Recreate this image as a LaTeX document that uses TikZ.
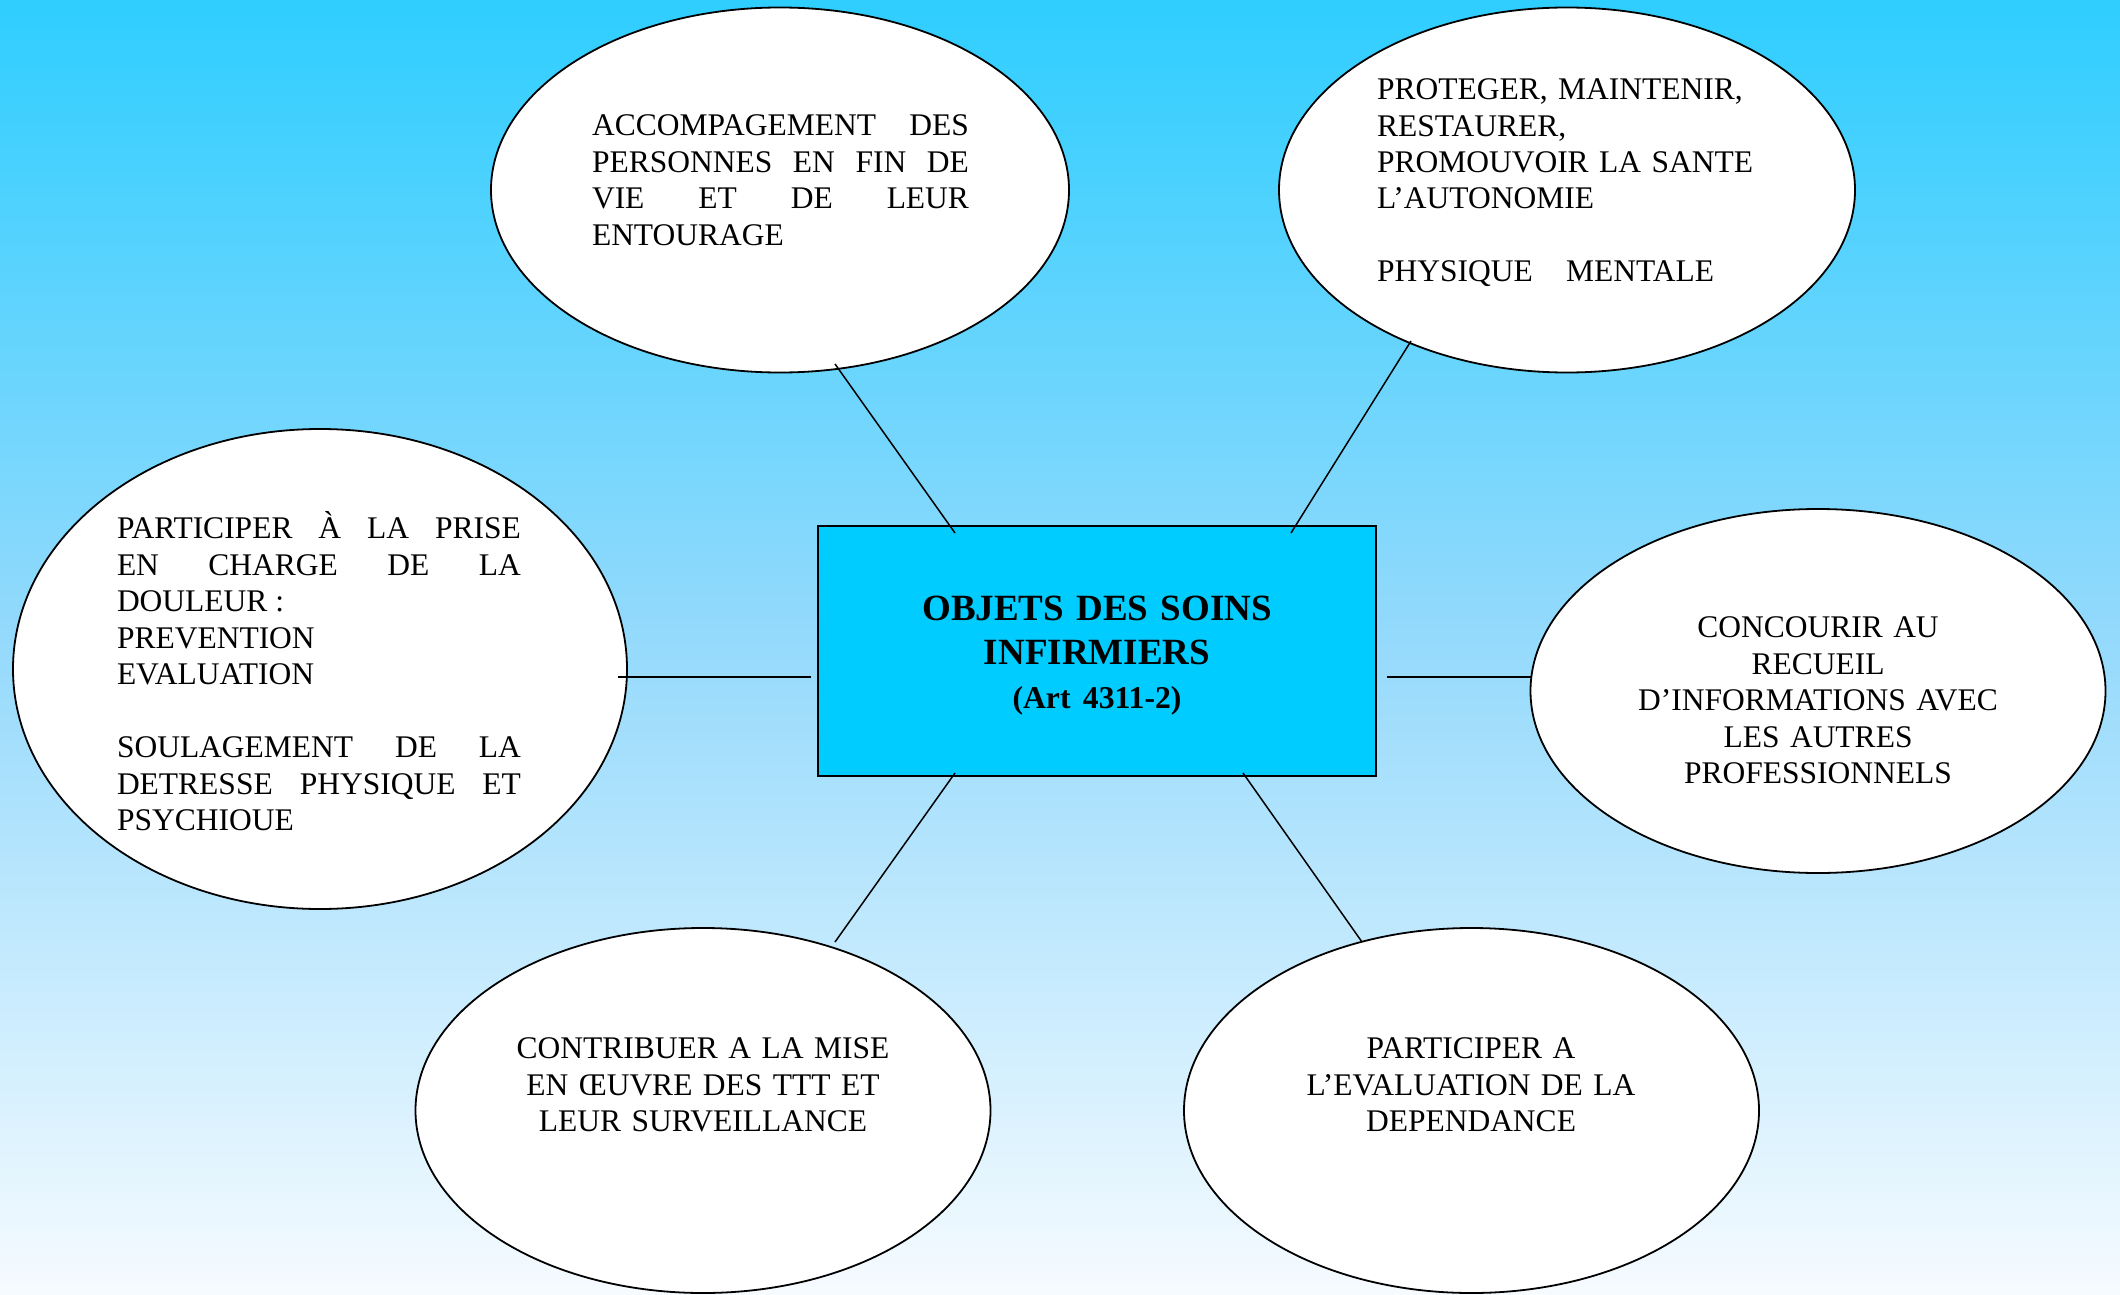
\documentclass[tikz,border=0pt]{standalone}
\usepackage{fontspec}
\setmainfont{Liberation Serif}
\usetikzlibrary{shapes.geometric}
\definecolor{bgtop}{RGB}{46,206,255}
\definecolor{bgmid}{RGB}{150,218,252}
\definecolor{bgbot}{RGB}{246,251,255}
\definecolor{boxfill}{RGB}{0,204,255}
\tikzset{
  bubble/.style={ellipse, draw=black, line width=1.8pt, fill=white, inner sep=0pt, outer sep=0pt},
  txt/.style={inner sep=0pt, outer sep=0pt, font=\fontsize{31.5}{36.5}\selectfont},
  jtxt/.style={txt, align=justify, anchor=base west},
  ctxt/.style={txt, text width=420pt, align=center, anchor=base},
  link/.style={line width=1.5pt, draw=black},
  hlink/.style={line width=2pt, draw=black}
}
\begin{document}
\begin{tikzpicture}[x=1pt,y=-1pt]
\useasboundingbox (0,0) rectangle (2120,1295);
\shade[top color=bgtop, bottom color=bgbot, middle color=bgmid] (0,0) rectangle (2120,1295);

% bubbles
\node[bubble, minimum width=578pt, minimum height=365pt] (e1) at (780,190) {};
\node[bubble, minimum width=576pt, minimum height=365pt] (e2) at (1567,190) {};
\node[bubble, minimum width=614pt, minimum height=480pt] (e3) at (320,669) {};
\node[bubble, minimum width=575pt, minimum height=364pt] (e4) at (1818,691) {};
\node[bubble, minimum width=575pt, minimum height=365pt] (e5) at (703,1110.5) {};
\node[bubble, minimum width=575pt, minimum height=365pt] (e6) at (1471.5,1110.5) {};

% central box
\node[draw=black, line width=2.5pt, fill=boxfill, minimum width=558pt, minimum height=250pt, inner sep=0pt, outer sep=0pt] (box) at (1097,651) {};

% connector ends
\coordinate (a1) at (835,364);  \coordinate (b1) at (955,533);
\coordinate (a2) at (1411,341); \coordinate (b2) at (1291,533);
\coordinate (a3) at (618,677);  \coordinate (b3) at (811,677);
\coordinate (a4) at (1531,677); \coordinate (b4) at (1387,677);
\coordinate (a5) at (835,942);  \coordinate (b5) at (955,773);
\coordinate (a6) at (1362,942); \coordinate (b6) at (1243,773);

\draw[link] (a1) -- (b1);
\draw[link] (a2) -- (b2);
\draw[hlink] (a3) -- (b3);
\draw[hlink] (a4) -- (b4);
\draw[link] (a5) -- (b5);
\draw[link] (a6) -- (b6);

% texts
\node[jtxt, text width=377pt] (t1) at (592,135.5)
  {ACCOMPAGEMENT DES\linebreak PERSONNES EN FIN DE\linebreak VIE ET DE LEUR\linebreak ENTOURAGE};
\node[txt, text width=420pt, align=left, anchor=base west] (t2) at (1377,99.5)
  {PROTEGER, MAINTENIR,\\ RESTAURER,\\ PROMOUVOIR LA SANTE\\ L’AUTONOMIE\\ ~\\ PHYSIQUE\hspace{23pt} MENTALE};
\node[jtxt, text width=404pt] (t3) at (117,538.5)
  {PARTICIPER À LA PRISE\linebreak EN CHARGE DE LA\linebreak DOULEUR :\\ PREVENTION\\ EVALUATION\\ ~\\ SOULAGEMENT DE LA\linebreak DETRESSE PHYSIQUE ET\linebreak PSYCHIOUE};
\node[ctxt] (t4) at (1818,637.5)
  {CONCOURIR AU\\ RECUEIL\\ D’INFORMATIONS AVEC\\ LES AUTRES\\ PROFESSIONNELS};
\node[ctxt] (t5) at (703,1058.5)
  {CONTRIBUER A LA MISE\\ EN ŒUVRE DES TTT ET\\ LEUR SURVEILLANCE};
\node[ctxt] (t6) at (1471,1058.5)
  {PARTICIPER A\\ L’EVALUATION DE LA\\ DEPENDANCE};
\node[inner sep=0pt, text width=520pt, align=center, anchor=base, font=\fontsize{37}{44}\selectfont\bfseries] (tc) at (1097,620)
  {OBJETS DES SOINS\\ INFIRMIERS\\ {\fontsize{31.7}{40}\selectfont (Art 4311-2)}};
\end{tikzpicture}
\end{document}
